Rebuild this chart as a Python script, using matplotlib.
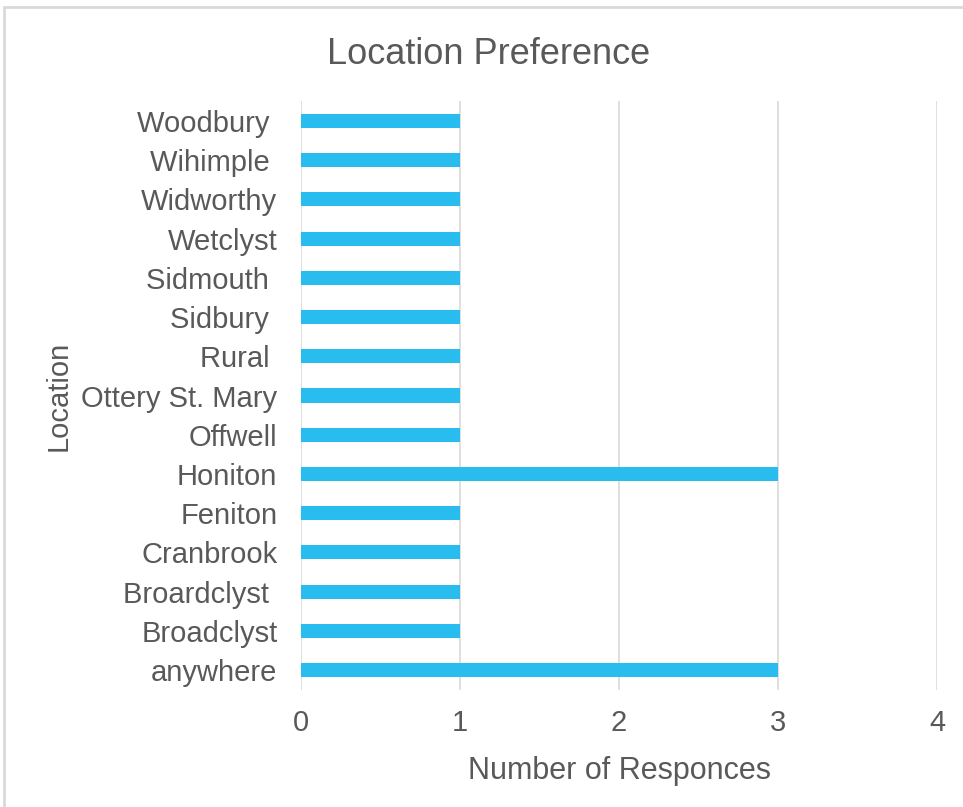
import matplotlib
matplotlib.use("Agg")
import matplotlib.pyplot as plt
from matplotlib.patches import Rectangle

categories = ["anywhere", "Broadclyst", "Broardclyst ", "Cranbrook", "Feniton",
              "Honiton", "Offwell", "Ottery St. Mary", "Rural ", "Sidbury ",
              "Sidmouth ", "Wetclyst", "Widworthy", "Wihimple ", "Woodbury "]
values = [3, 1, 1, 1, 1, 3, 1, 1, 1, 1, 1, 1, 1, 1, 1]
xticks = [0, 1, 2, 3, 4]

TXT = "#595959"
plt.rcParams['font.family'] = ['Liberation Sans', 'DejaVu Sans']

W, H = 963, 807
fig = plt.figure(figsize=(W / 100, H / 100), dpi=100)
fig.patches.append(Rectangle((4 / W, -0.1), 1.2, (H - 7) / H + 0.1,
                             transform=fig.transFigure, fill=False,
                             edgecolor="#D9D9D9", linewidth=2))

ax = fig.add_axes([301 / W, 1 - 689.6 / H, (937 - 301) / W, (689.6 - 101.4) / H])
ypos = list(range(len(categories)))
ax.barh(ypos, values, height=0.36, color="#29BDEF", zorder=3)
ax.set_xlim(0, 4)
ax.set_ylim(-0.5, len(categories) - 0.5)
ax.set_xticks(xticks)
ax.set_xticklabels([str(t) for t in xticks])
ax.set_yticks(ypos)
ax.set_yticklabels(categories)
ax.grid(axis="x", color="#D9D9D9", linewidth=1.2, zorder=0)
ax.grid(axis="y", visible=False)
for s in ax.spines.values():
    s.set_visible(False)
ax.tick_params(axis="both", length=0, labelsize=21, colors=TXT)
ax.tick_params(axis="y", pad=17)
ax.tick_params(axis="x", pad=14)
ax.set_xlabel("Number of Responces", fontsize=22, color=TXT, labelpad=14)
ax.set_ylabel("Location", fontsize=21, color=TXT, labelpad=6)
fig.text(489 / W, 1 - 54 / H, "Location Preference",
         fontsize=26, color=TXT, ha="center", va="center")

fig.savefig("out.png", dpi=100, facecolor="white")
